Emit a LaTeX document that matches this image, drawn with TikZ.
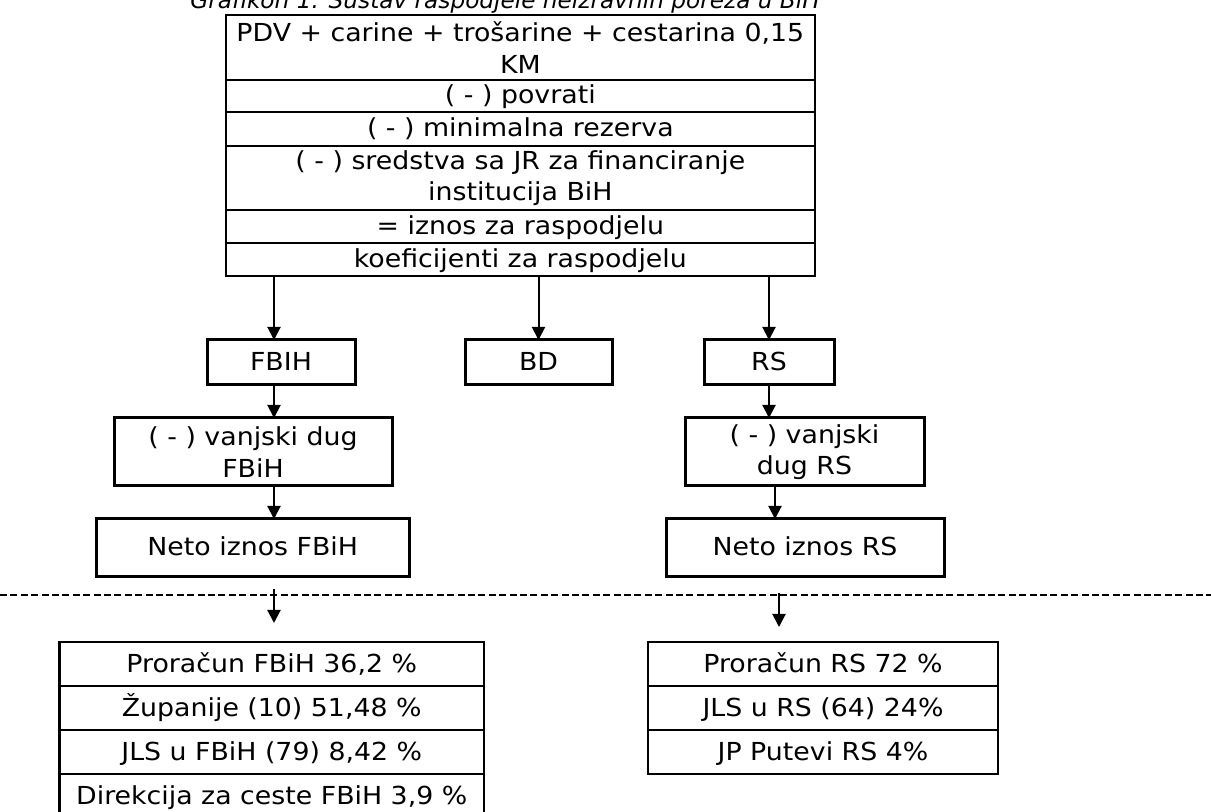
\documentclass[tikz,border=0pt]{standalone}
\usepackage{fontspec}
\setmainfont{DejaVu Sans}[FakeStretch=1.08]
\newfontfamily\naslovfont{DejaVu Sans}
\usetikzlibrary{positioning}
\usetikzlibrary{arrows.meta}
\tikzstyle{row} = [rectangle, minimum width=294.65pt, text centered, align=center, draw=black, line width=0.85pt, inner sep=0pt, outer sep=0pt]
\tikzstyle{process} = [rectangle, text centered, align=center, draw=black, line width=1.5pt, inner sep=0pt, outer sep=0pt]
\tikzstyle{cell} = [rectangle, minimum height=22pt, text centered, draw=black, line width=1.4pt, inner sep=0pt, outer sep=0pt, text height=9pt, text depth=1pt]
\tikzstyle{jedan} = [text height=9pt, text depth=1pt]
\tikzstyle{arrow} = [line width=1pt,->,>={Triangle[length=6.5pt,width=6.5pt]}]

\begin{document}
\begin{tikzpicture}[x=0.5pt, y=-0.5pt, font=\fontsize{12.4}{15.7}\selectfont, node distance=0pt]
\useasboundingbox (0,0) rectangle (1211,812);
\node (title) [anchor=base, font=\naslovfont\fontsize{11.6}{15}\selectfont\itshape] at (505,9) {Grafikon 1. Sustav raspodjele neizravnih poreza u BiH};

% ukupni prihodi
\node (r1) [row, minimum height=32.5pt] at (520.35,47.5) {PDV + carine + trošarine + cestarina 0,15\\KM};
\node (r2) [row, jedan, minimum height=16pt, below=of r1] {( - ) povrati};
\node (r3) [row, jedan, minimum height=17pt, below=of r2] {( - ) minimalna rezerva};
\node (r4) [row, minimum height=32pt, below=of r3] {( - ) sredstva sa JR za financiranje\\institucija BiH};
\node (r5) [row, jedan, minimum height=16.5pt, below=of r4] {= iznos za raspodjelu};
\node (r6) [row, jedan, minimum height=16.5pt, below=of r5] {koeficijenti za raspodjelu};

% entiteti
\node (fbih) [process, jedan, minimum width=74pt, minimum height=22.5pt] at (281,362.5) {FBIH};
\node (bd) [process, jedan, minimum width=73.5pt, minimum height=22.5pt] at (538.5,362.5) {BD};
\node (rs) [process, jedan, minimum width=65pt, minimum height=22.5pt] at (769,362.5) {RS};
\node (dugF) [process, minimum width=139pt, minimum height=34pt] at (253,452) {( - ) vanjski dug\\FBiH};
\node (dugR) [process, minimum width=119.5pt, minimum height=34pt] at (804.5,452) {( - ) vanjski\\dug RS};
\node (netoF) [process, jedan, minimum width=156.25pt, minimum height=29pt] at (252.75,548) {Neto iznos FBiH};
\node (netoR) [process, jedan, minimum width=139pt, minimum height=29pt] at (805,548) {Neto iznos RS};

\draw [line width=1pt, dash pattern=on 3.5pt off 1.7pt] (0,595) -- (1211,595);

% korisnici
\node (f1) [cell, minimum width=212.25pt] at (271.75,664) {Proračun FBiH 36,2 \%};
\node (f2) [cell, minimum width=212.25pt, below=of f1] {Županije (10) 51,48 \%};
\node (f3) [cell, minimum width=212.25pt, below=of f2] {JLS u FBiH (79) 8,42 \%};
\node (f4) [cell, minimum width=212.25pt, below=of f3] {Direkcija za ceste FBiH 3,9 \%};
\node (s1) [cell, minimum width=175pt] at (823,664) {Proračun RS 72 \%};
\node (s2) [cell, minimum width=175pt, below=of s1] {JLS u RS (64) 24\%};
\node (s3) [cell, minimum width=175pt, below=of s2] {JP Putevi RS 4\%};

\coordinate (osF) at (274,0);
\coordinate (osR) at (775,0);
\coordinate (preF) at (274,589);
\coordinate (tipF) at (274,623);
\coordinate (preR) at (779,593);
\coordinate (tipR) at (779,627);
\draw [arrow] (r6.south -| osF) -- (fbih.north -| osF);
\draw [arrow] (r6.south -| bd) -- (bd);
\draw [arrow] (r6.south -| rs) -- (rs);
\draw [arrow] (fbih.south -| osF) -- (dugF.north -| osF);
\draw [arrow] (rs) -- (rs |- dugR.north);
\draw [arrow] (dugF.south -| osF) -- (netoF.north -| osF);
\draw [arrow] (dugR.south -| osR) -- (netoR.north -| osR);
\draw [arrow] (preF) -- (tipF);
\draw [arrow] (preR) -- (tipR);
\end{tikzpicture}
\end{document}
